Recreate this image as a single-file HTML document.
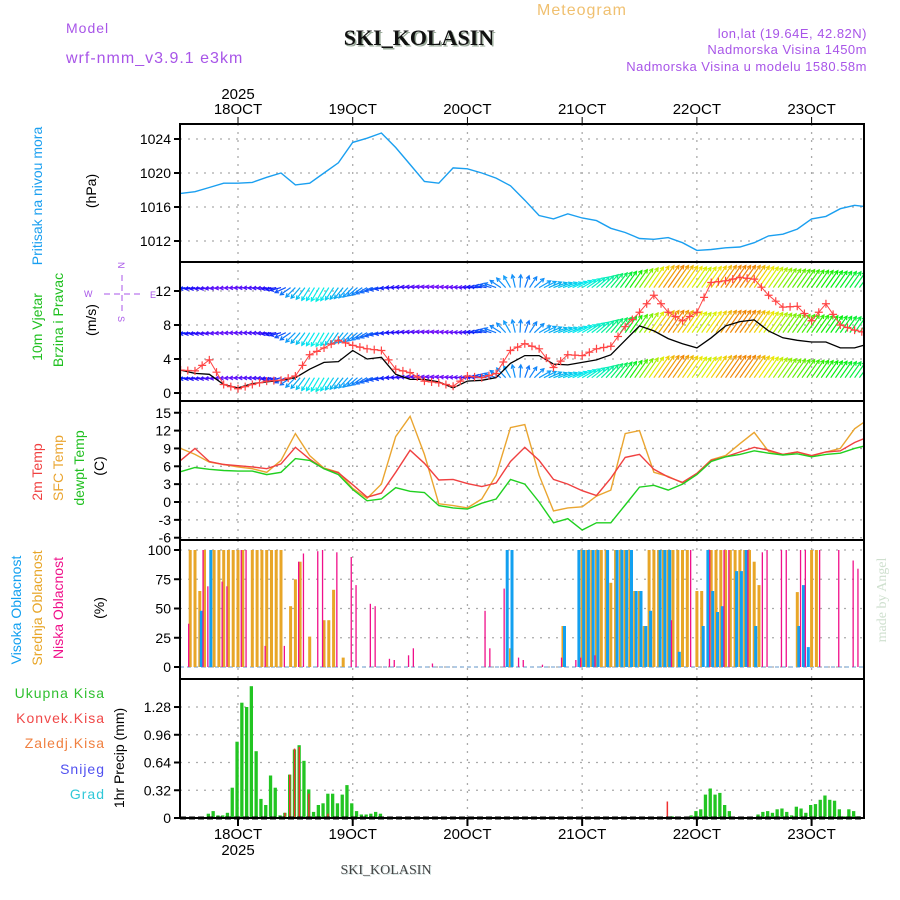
<!DOCTYPE html>
<html><head><meta charset="utf-8"><title>Meteogram SKI_KOLASIN</title>
<style>
html,body{margin:0;padding:0;background:#fff;}
svg{display:block;font-family:"Liberation Sans",sans-serif;}
</style></head>
<body>
<svg id="chart" width="900" height="900" viewBox="0 0 900 900" xmlns="http://www.w3.org/2000/svg">
<rect width="900" height="900" fill="#fff"/>
<text x="582" y="15" font-size="16" fill="#f0c070" text-anchor="middle" letter-spacing="1">Meteogram</text>
<text x="66" y="33" font-size="14" fill="#a855e8" letter-spacing="1">Model</text>
<text x="66" y="63" font-size="16" fill="#a855e8" letter-spacing="1">wrf-nmm_v3.9.1 e3km</text>
<text x="419" y="45" font-family="'Liberation Serif',serif" font-weight="bold" font-size="22" fill="#9a9" text-anchor="middle" transform="translate(1.5,1.5)">SKI_KOLASIN</text>
<text x="419" y="45" font-family="'Liberation Serif',serif" font-weight="bold" font-size="22" fill="#111" text-anchor="middle">SKI_KOLASIN</text>
<text x="867" y="38" font-size="13" fill="#a855e8" text-anchor="end" letter-spacing="0.5">lon,lat (19.64E, 42.82N)</text>
<text x="867" y="54" font-size="13" fill="#a855e8" text-anchor="end" letter-spacing="0.5">Nadmorska Visina 1450m</text>
<text x="867" y="71" font-size="13" fill="#a855e8" text-anchor="end" letter-spacing="0.5">Nadmorska Visina u modelu 1580.58m</text>
<g id="layer"></g>
</svg>
<script>
// ---- data (3-hourly, hours relative to 18OCT 00UTC) ----
const hours = [-12,-9,-6,-3,0,3,6,9,12,15,18,21,24,27,30,33,36,39,42,45,48,51,54,57,60,63,66,69,72,75,78,81,84,87,90,93,96,99,102,105,108,111,114,117,120,123,126,129,132];
const dayLabels = ["18OCT","19OCT","20OCT","21OCT","22OCT","23OCT"];
const dayHours = [0,24,48,72,96,120];
const pressure = [1017.6,1017.8,1018.3,1018.8,1018.8,1018.9,1019.5,1020.0,1018.6,1018.8,1020.0,1021.2,1023.6,1024.1,1024.7,1023.0,1021.0,1019.0,1018.8,1020.6,1020.5,1020.0,1019.4,1018.5,1016.8,1015.0,1014.6,1015.2,1014.7,1014.4,1013.5,1013.0,1012.3,1012.2,1012.4,1011.8,1010.9,1011.0,1011.2,1011.3,1011.8,1012.6,1012.8,1013.4,1014.6,1014.9,1015.8,1016.2,1016.0];
const pressureTicks = [1012,1016,1020,1024];
const windSpeed = [2.7,2.3,2.2,1.0,0.6,1.1,1.3,1.5,1.8,2.8,3.6,3.7,5.0,4.0,4.2,2.2,1.6,1.6,1.3,0.6,1.4,1.5,1.8,3.5,4.4,4.4,3.4,3.3,3.6,3.9,4.5,6.2,7.9,7.3,6.4,5.8,5.3,6.5,7.9,8.4,8.6,7.3,6.5,6.2,6.0,6.0,5.3,5.3,5.8];
const windGust = [2.7,2.6,3.9,1.0,0.5,1.0,1.4,1.5,2.0,4.5,5.3,6.2,5.6,5.2,5.0,2.8,2.4,1.4,1.2,0.8,2.0,1.8,2.3,5.0,5.8,5.2,3.0,4.5,4.4,5.2,5.5,7.8,9.5,11.5,9.5,8.5,9.5,13.0,13.2,13.6,13.4,11.5,10.1,10.2,8.5,10.5,8.0,7.4,7.0];
const barbDir = [265,262,262,265,268,268,265,255,225,212,210,215,225,240,258,270,275,278,278,275,272,275,290,330,380,420,430,430,420,410,400,395,395,395,395,395,395,395,395,395,395,395,395,395,395,395,395,395,400];
const barbSpeed = [3,2,1.5,1,1,1.2,1.5,2.5,4,5,5.5,4.5,4,3.5,3,2,1.5,1,0.8,0.8,1.2,2.5,3.5,4,3.5,4,4.5,5,5.5,6,7,8,10,12,13,12,11,12,13,13,12,11,10,9.5,9,8.5,8,7.5,7];
const windTicks = [0,4,8,12];
const barbRowLevels = [12.4,7.1,1.8];
const temp2m = [7.0,9.0,6.8,6.3,6.1,5.9,5.6,6.4,9.2,7.2,5.6,4.9,2.9,0.8,1.5,5.0,8.7,6.5,3.7,3.8,3.1,2.6,3.2,6.8,9.2,7.0,3.8,3.0,1.9,1.1,4.0,7.5,8.0,5.5,4.2,3.3,4.8,7.0,7.6,8.4,9.2,8.7,8.0,8.4,7.8,8.4,8.6,10.0,11.0];
const tempSfc = [9.0,8.0,6.7,6.3,5.9,5.6,5.0,7.0,11.5,7.8,5.7,5.0,2.3,0.6,3.0,11.0,14.4,8.0,-0.3,-0.6,-1.0,0.5,4.5,12.5,13.0,4.5,-1.5,-1.0,-0.8,1.0,2.0,11.5,12.0,5.0,4.3,3.2,4.8,7.1,7.8,9.8,11.7,8.5,8.0,8.4,7.7,8.4,9.0,12.3,14.0];
const tempDew = [5.1,5.8,5.5,5.3,5.2,5.2,4.6,5.0,7.3,7.0,5.6,4.6,2.1,0.2,0.5,2.4,1.8,1.6,-0.6,-1.0,-1.2,-0.2,0.5,3.8,3.0,0.0,-3.5,-2.8,-4.7,-3.5,-3.5,-0.5,2.5,2.8,2.0,3.0,4.6,6.8,7.6,8.0,8.6,8.2,7.9,8.1,7.6,8.0,8.2,9.0,9.6];
const tempTicks = [-6,-3,0,3,6,9,12,15];
// clouds (hourly, only non-zero)
const cloudMidHours = [-10,-9,-8,-7,-5,-4,-3,-2,-1,0,1,3,4,5,6,7,8,9,11,12,13,15,18,19,20,22,57,68,72,73,74,75,76,77,78,79,80,81,82,83,84,85,86,87,88,89,90,91,92,93,94,96,97,99,100,101,102,103,104,105,106,107,108,109,117,120,121];
const cloudMidValues = [100,100,65,100,100,100,100,100,100,100,100,100,100,100,100,100,100,100,52,75,90,26,40,40,66,8,16,35,100,100,100,100,100,100,72,100,100,100,100,65,65,35,100,100,100,100,100,100,100,100,100,65,65,100,100,100,100,100,100,100,100,100,90,70,64,100,100];
const cloudHighHours = [-8,-6,56,57,68,71,72,73,74,75,77,79,80,81,82,83,84,85,86,88,89,90,92,97,98,99,100,101,104,105,106,108,117,118,119];
const cloudHighValues = [48,100,100,100,35,100,100,100,100,100,100,100,100,100,100,65,65,35,48,100,100,100,13,35,100,65,47,52,82,82,100,35,35,70,17];
const cloudLowHours = [-10,-7,-6,-3,-2,1,2,6,10,13,14,17,18,21,24,25,28,29,32,33,36,37,41,52,53,56,59,60,64,68,71,72,75,91,95,99,102,103,107,110,111,114,115,118,119,122,126,129,130];
const cloudLowValues = [37,100,69,73,69,100,100,18,18,90,97,99,100,98,94,70,54,52,7,6,10,16,3,48,16,67,8,6,2,8,6,8,10,40,100,100,100,100,100,98,100,100,100,100,100,100,100,91,84];
const cloudTicks = [0,25,50,75,100];
// precipitation (hourly)
const precipHours = [-6,-5,-4,-3,-2,-1,0,1,2,3,4,5,6,7,8,9,10,11,12,13,14,15,16,17,18,19,20,21,22,23,24,25,26,27,28,29,30,91,95,96,97,98,99,100,101,102,103,109,110,111,112,113,114,115,116,117,118,119,120,121,122,123,124,125,126,127,128,129,130];
const precipTotal = [0.05,0.08,0.03,0.03,0.06,0.35,0.88,1.33,1.28,1.52,0.77,0.22,0.15,0.49,0.35,0.03,0.06,0.5,0.79,0.84,0.66,0.33,0.07,0.15,0.17,0.28,0.28,0.17,0.27,0.38,0.17,0.08,0.04,0.04,0.05,0.07,0.05,0.02,0.03,0.08,0.1,0.27,0.34,0.27,0.29,0.15,0.08,0.04,0.07,0.08,0.06,0.1,0.11,0.07,0.03,0.13,0.11,0.06,0.15,0.16,0.21,0.26,0.21,0.2,0.1,0.02,0.1,0.08,0.02];
const convHours = [10,11,12,13,15,19,90];
const convValues = [0.06,0.5,0.8,0.82,0.28,0.05,0.19];
const precipTicks = [0,0.32,0.64,0.96,1.28];
const precipTickLabels = ["0","0.32","0.64","0.96","1.28"];

// ---- layout ----
const X0 = 180, X1 = 864;
const panels = [[124,262],[262,401],[401,540],[540,679],[679,818]];
function xOf(h){ return 238 + 4.78*h; }
function yP(v){ return 139 + (1024 - v)*8.5; }
function yW(v){ return 393 - v*8.5; }
function yT(v){ return 502 - v*5.95; }
function yC(v){ return 667 - v*1.17; }
function yR(v){ return 818 - v*86.7; }

const NS = "http://www.w3.org/2000/svg";
const layer = document.getElementById('layer');
function mk(tag, attrs, parent){
  const e = document.createElementNS(NS, tag);
  for (const k in attrs) e.setAttribute(k, attrs[k]);
  (parent || layer).appendChild(e);
  return e;
}
// clip paths
const defs = mk('defs', {});
panels.forEach((p,i)=>{
  const cp = mk('clipPath', {id:'clip'+i}, defs);
  mk('rect', {x:X0, y:p[0], width:X1-X0, height:p[1]-p[0]}, cp);
});

// grids
function hgrid(ticks, fy, pi, labels){
  ticks.forEach((t,i)=>{
    const y = fy(t);
    const g = mk('line', {x1:X0, x2:X1, y1:y, y2:y, stroke:'#aaa', 'stroke-width':1.3, 'stroke-dasharray':'2,6'});
    
    
    mk('line', {x1:X0-6, x2:X0, y1:y, y2:y, stroke:'#000', 'stroke-width':2});
    const tx = mk('text', {x:X0-9, y:y+5, 'font-size':14, 'text-anchor':'end', fill:'#000'});
    tx.textContent = labels ? labels[i] : String(t);
    
    
  });
}
panels.forEach((p,i)=>{
  dayHours.forEach(h=>{
    const v = mk('line', {x1:xOf(h), x2:xOf(h), y1:p[0], y2:p[1], stroke:'#aaa', 'stroke-width':1.3, 'stroke-dasharray':'2,6'});
    
    
  });
});
hgrid(pressureTicks, yP, 0);
hgrid(windTicks, yW, 1);
hgrid(tempTicks, yT, 2);
hgrid(cloudTicks, yC, 3);
hgrid(precipTicks, yR, 4, precipTickLabels);

function linePath(vals, fy){
  return vals.map((v,i)=>(i?'L':'M')+xOf(hours[i]).toFixed(1)+','+fy(v).toFixed(1)).join(' ');
}
// pressure
const pl = mk('path', {d:linePath(pressure, yP), fill:'none', stroke:'#1a9ff0', 'stroke-width':1.4, 'clip-path':'url(#clip0)'});



// wind barbs
function interp(arr, h){
  const i = Math.max(0, Math.min(hours.length-2, Math.floor((h - hours[0])/3)));
  const t = (h - hours[i])/(hours[i+1]-hours[i]);
  return arr[i] + (arr[i+1]-arr[i])*t;
}
function spdColor(s){
  const hue = Math.max(0, 280 - s*19);
  return 'hsl(' + hue.toFixed(0) + ',95%,' + (hue>200?'52%':'48%') + ')';
}
const barbG = mk('g', {'clip-path':'url(#clip1)'});


barbRowLevels.forEach(lvl=>{
  for (let h=-12; h<=131; h++){
    const s = interp(barbSpeed, h), d = interp(barbDir, h)*Math.PI/180;
    const L = Math.min(27, 7 + s*1.6);
    const x0 = xOf(h), y0 = yW(lvl);
    const x1 = x0 + L*Math.sin(d), y1 = y0 - L*Math.cos(d);
    const c = spdColor(s);
    const ln = mk('line', {x1:x0, y1:y0, x2:x1, y2:y1, stroke:c, 'stroke-width':1.2}, barbG);
    
    
    const a1 = d + Math.PI - 0.5, a2 = d + Math.PI + 0.5;
    mk('path', {d:'M'+(x1+4*Math.sin(a1)).toFixed(1)+','+(y1-4*Math.cos(a1)).toFixed(1)+' L'+x1.toFixed(1)+','+y1.toFixed(1)+' L'+(x1+4*Math.sin(a2)).toFixed(1)+','+(y1-4*Math.cos(a2)).toFixed(1), fill:'none', stroke:c, 'stroke-width':1.2}, barbG);
  }
});
const ws = mk('path', {d:linePath(windSpeed, yW), fill:'none', stroke:'#000', 'stroke-width':1.3, 'clip-path':'url(#clip1)'});


const gl = mk('path', {d:linePath(windGust, yW), fill:'none', stroke:'#f44', 'stroke-width':1, 'clip-path':'url(#clip1)'});


const gustG = mk('g', {'clip-path':'url(#clip1)'});
for (let h=-12; h<=131; h+=1.5){
  const x = xOf(h), y = yW(interp(windGust, h));
  const m = mk('path', {d:'M'+(x-4)+','+y+' h8 M'+x+','+(y-4)+' v8', stroke:'#f44', 'stroke-width':1.2}, gustG);
  
  
}

// temperatures
[[tempSfc,'#eaa530','sfc-temp-line'],[temp2m,'#f04040','2m-temp-line'],[tempDew,'#20d020','dewpoint-line']].forEach(s=>{
  const p = mk('path', {d:linePath(s[0], yT), fill:'none', stroke:s[1], 'stroke-width':1.4, 'clip-path':'url(#clip2)'});
  
  
});

// clouds
mk('line', {x1:X0, x2:X1, y1:667, y2:667, stroke:'#9bd', 'stroke-width':1.5, 'stroke-dasharray':'4,3'});
function cloudBars(hs, vs, color, w, off, name){
  hs.forEach((h,i)=>{
    const x = xOf(h) + off, y = yC(vs[i]);
    const r = mk('rect', {x:(x - w/2).toFixed(1), y:y.toFixed(1), width:w, height:(667-y).toFixed(1), fill:color, 'clip-path':'url(#clip3)'});
    
    
  });
}
cloudBars(cloudMidHours, cloudMidValues, '#e8a628', 3, 0, 'mid-cloud-bar');
cloudBars(cloudHighHours, cloudHighValues, '#12a0f0', 3, 1.5, 'high-cloud-bar');
cloudBars(cloudLowHours, cloudLowValues, '#f0108a', 1.3, -1.5, 'low-cloud-bar');

// precipitation
precipHours.forEach((h,i)=>{
  const x = xOf(h) - 1, y = yR(precipTotal[i]);
  const r = mk('rect', {x:(x-1.6).toFixed(1), y:y.toFixed(1), width:3.3, height:(818-y).toFixed(1), fill:'#22c522'});
  
  
});
convHours.forEach((h,i)=>{
  const x = xOf(h) - 1, y = yR(convValues[i]);
  const r = mk('rect', {x:(x-0.6).toFixed(1), y:y.toFixed(1), width:1.5, height:(818-y).toFixed(1), fill:'#f03030'});
  
  
});

// panel frames
panels.forEach((p,i)=>{
  const f = mk('rect', {x:X0, y:p[0], width:X1-X0, height:p[1]-p[0], fill:'none', stroke:'#000', 'stroke-width':2});
  
  
});
mk('line', {x1:X0, x2:X1, y1:818, y2:818, stroke:'#000', 'stroke-width':3, 'stroke-dasharray':'6,3'});

// day labels
dayHours.forEach((h,i)=>{
  const x = xOf(h);
  mk('line', {x1:x, x2:x, y1:117, y2:124, stroke:'#000', 'stroke-width':1});
  mk('line', {x1:x, x2:x, y1:818, y2:826, stroke:'#000', 'stroke-width':2});
  const t = mk('text', {x:x, y:114, 'font-size':15, 'text-anchor':'middle'});
  t.textContent = dayLabels[i];
  
  
  const b = mk('text', {x:x, y:839, 'font-size':15, 'text-anchor':'middle'});
  b.textContent = dayLabels[i];
  
  
});
</script>
<svg width="900" height="900" viewBox="0 0 900 900" style="position:absolute;left:0;top:0;pointer-events:none" font-family="'Liberation Sans',sans-serif">
<text x="238" y="99" font-size="15" text-anchor="middle">2025</text>
<text x="238" y="855" font-size="15" text-anchor="middle">2025</text>
<text x="386" y="874" font-family="'Liberation Serif',serif" font-size="14" fill="#cdd" text-anchor="middle" transform="translate(1,1)">SKI_KOLASIN</text>
<text x="386" y="874" font-family="'Liberation Serif',serif" font-size="14" fill="#444" text-anchor="middle">SKI_KOLASIN</text>
<text transform="translate(42,196) rotate(-90)" font-size="14" fill="#1a9ff0" text-anchor="middle">Pritisak na nivou mora</text>
<text transform="translate(96,191) rotate(-90)" font-size="14" text-anchor="middle">(hPa)</text>
<text transform="translate(42,327) rotate(-90)" font-size="14" fill="#20c020" text-anchor="middle">10m Vjetar</text>
<text transform="translate(63,320) rotate(-90)" font-size="14" fill="#20c020" text-anchor="middle">Brzina i Pravac</text>
<text transform="translate(96,320) rotate(-90)" font-size="14" text-anchor="middle">(m/s)</text>
<g fill="#a855e8" stroke="#a855e8" font-size="9">
<text x="84" y="297" stroke="none">W</text><text x="150" y="298" stroke="none">E</text>
<text x="118" y="268" stroke="none" transform="rotate(90 121 265)">N</text>
<text x="118" y="322" stroke="none" transform="rotate(90 121 319)">S</text>
<line x1="104" y1="294" x2="140" y2="294" stroke-dasharray="6,4"/>
<line x1="122" y1="275" x2="122" y2="313" stroke-dasharray="6,4"/>
</g>
<text transform="translate(42,472) rotate(-90)" font-size="14" fill="#f04040" text-anchor="middle">2m Temp</text>
<text transform="translate(63,468) rotate(-90)" font-size="14" fill="#eaa530" text-anchor="middle">SFC Temp</text>
<text transform="translate(84,468) rotate(-90)" font-size="14" fill="#20c020" text-anchor="middle">dewpt Temp</text>
<text transform="translate(104,466) rotate(-90)" font-size="14" text-anchor="middle">(C)</text>
<text transform="translate(21,610) rotate(-90)" font-size="14" fill="#12a0f0" text-anchor="middle">Visoka Oblacnost</text>
<text transform="translate(42,608) rotate(-90)" font-size="14" fill="#e8a628" text-anchor="middle">Srednja Oblacnost</text>
<text transform="translate(63,608) rotate(-90)" font-size="14" fill="#f0108a" text-anchor="middle">Niska Oblacnost</text>
<text transform="translate(104,608) rotate(-90)" font-size="14" text-anchor="middle">(%)</text>
<text x="105" y="698" font-size="14" fill="#30c030" text-anchor="end" letter-spacing="1">Ukupna Kisa</text>
<text x="105" y="723" font-size="14" fill="#f04848" text-anchor="end" letter-spacing="1">Konvek.Kisa</text>
<text x="105" y="748" font-size="14" fill="#f08040" text-anchor="end" letter-spacing="1">Zaledj.Kisa</text>
<text x="105" y="774" font-size="14" fill="#5050f0" text-anchor="end" letter-spacing="1">Snijeg</text>
<text x="105" y="799" font-size="14" fill="#30c8d8" text-anchor="end" letter-spacing="1">Grad</text>
<text transform="translate(124,758) rotate(-90)" font-size="14" text-anchor="middle">1hr Precip (mm)</text>
<text transform="translate(886,600) rotate(-90)" font-family="'Liberation Serif',serif" font-size="14" fill="#cfe0cf" text-anchor="middle">made by Angel</text>
</svg>
</body></html>
